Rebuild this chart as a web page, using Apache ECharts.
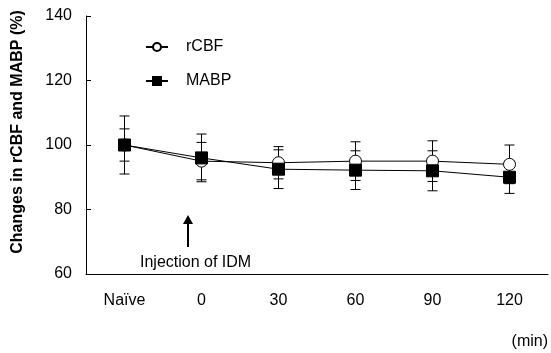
<!DOCTYPE html>
<html>
<head>
<meta charset="utf-8">
<script src="https://cdn.jsdelivr.net/npm/echarts@6/dist/echarts.min.js"></script>
<style>
  html, body { margin: 0; padding: 0; background: #fff; }
  #chart { width: 551px; height: 353px; }
</style>
</head>
<body>
<div id="chart"></div>
<script>
const categories = ['Naïve', '0', '30', '60', '90', '120'];
const rcbfMean = [100, 95, 94.5, 95, 95, 94];
const rcbfErr = [9, 5.8, 5, 6, 6.3, 6];
const mabpMean = [100, 96, 92.5, 92.2, 92, 90];
const mabpErr = [5, 7.4, 6, 6, 6.2, 5];
const yTicks = { min: 60, max: 140, interval: 20 };

const FONT = '"Liberation Sans", Arial, sans-serif';

const chart = echarts.init(document.getElementById('chart'));

function errorBars(means, errs) {
    return means.map((m, i) => [i, m - errs[i], m + errs[i]]);
}

function renderErr(params, api) {
    const x = api.value(0);
    const lo = api.coord([x, api.value(1)]);
    const hi = api.coord([x, api.value(2)]);
    const hw = 5;
    const style = { stroke: '#000', lineWidth: 1, fill: null };
    return {
        type: 'group',
        children: [
            { type: 'line', shape: { x1: lo[0], y1: lo[1], x2: hi[0], y2: hi[1] }, style },
            { type: 'line', shape: { x1: lo[0] - hw, y1: lo[1], x2: lo[0] + hw, y2: lo[1] }, style },
            { type: 'line', shape: { x1: hi[0] - hw, y1: hi[1], x2: hi[0] + hw, y2: hi[1] }, style }
        ]
    };
}

const option = {
    animation: false,
    grid: { left: 86, right: 3, top: 16, bottom: 79 },
    legend: {
        orient: 'vertical',
        left: 145,
        top: 39,
        padding: 0,
        itemWidth: 22,
        itemHeight: 10,
        itemGap: 18,
        textStyle: { fontFamily: FONT, fontSize: 16, color: '#000', padding: [0, 0, 0, 13] },
        data: ['rCBF', 'MABP']
    },
    xAxis: {
        type: 'category',
        data: categories,
        boundaryGap: true,
        axisLine: { lineStyle: { color: '#000', width: 1 } },
        axisTick: { inside: true, length: 5, lineStyle: { color: '#000' } },
        axisLabel: { margin: 19, color: '#000', fontFamily: FONT, fontSize: 16 },
        splitLine: { show: false }
    },
    yAxis: {
        type: 'value',
        min: yTicks.min,
        max: yTicks.max,
        interval: yTicks.interval,
        axisLine: { show: true, lineStyle: { color: '#000', width: 1 } },
        axisTick: { show: true, inside: true, length: 5, lineStyle: { color: '#000' } },
        axisLabel: { margin: 14, color: '#000', fontFamily: FONT, fontSize: 16 },
        splitLine: { show: false }
    },
    series: [
        {
            name: 'rCBF err',
            type: 'custom',
            renderItem: renderErr,
            data: errorBars(rcbfMean, rcbfErr),
            encode: { x: 0, y: [1, 2] },
            z: 1,
            silent: true
        },
        {
            name: 'MABP err',
            type: 'custom',
            renderItem: renderErr,
            data: errorBars(mabpMean, mabpErr),
            encode: { x: 0, y: [1, 2] },
            z: 1,
            silent: true
        },
        {
            name: 'rCBF',
            type: 'line',
            data: rcbfMean,
            symbol: 'circle',
            symbolSize: 12,
            lineStyle: { color: '#000', width: 1 },
            itemStyle: { color: '#fff', borderColor: '#000', borderWidth: 1 },
            z: 3
        },
        {
            name: 'MABP',
            type: 'line',
            data: mabpMean,
            symbol: 'rect',
            symbolSize: 12,
            lineStyle: { color: '#000', width: 1 },
            itemStyle: { color: '#000', borderColor: '#000', borderWidth: 1 },
            z: 4
        }
    ],
    graphic: [
        {
            type: 'text',
            x: 18,
            y: 132,
            rotation: Math.PI / 2,
            style: {
                text: 'Changes in rCBF and MABP (%)',
                fontFamily: FONT, fontSize: 16, fontWeight: 'bold', fill: '#000',
                align: 'center', verticalAlign: 'middle'
            }
        },
        {
            type: 'line',
            shape: { x1: 188, y1: 247, x2: 188, y2: 222 },
            style: { stroke: '#000', lineWidth: 2 }
        },
        {
            type: 'polygon',
            shape: { points: [[183, 224], [193, 224], [188, 215]] },
            style: { fill: '#000' }
        },
        {
            type: 'text',
            x: 140,
            y: 263,
            style: {
                text: 'Injection of IDM', fontFamily: FONT, fontSize: 16, fill: '#000',
                align: 'left', verticalAlign: 'middle'
            }
        },
        {
            type: 'text',
            x: 548,
            y: 342,
            style: {
                text: '(min)', fontFamily: FONT, fontSize: 16, fill: '#000',
                align: 'right', verticalAlign: 'middle'
            }
        }
    ]
};

chart.setOption(option);
</script>
</body>
</html>
